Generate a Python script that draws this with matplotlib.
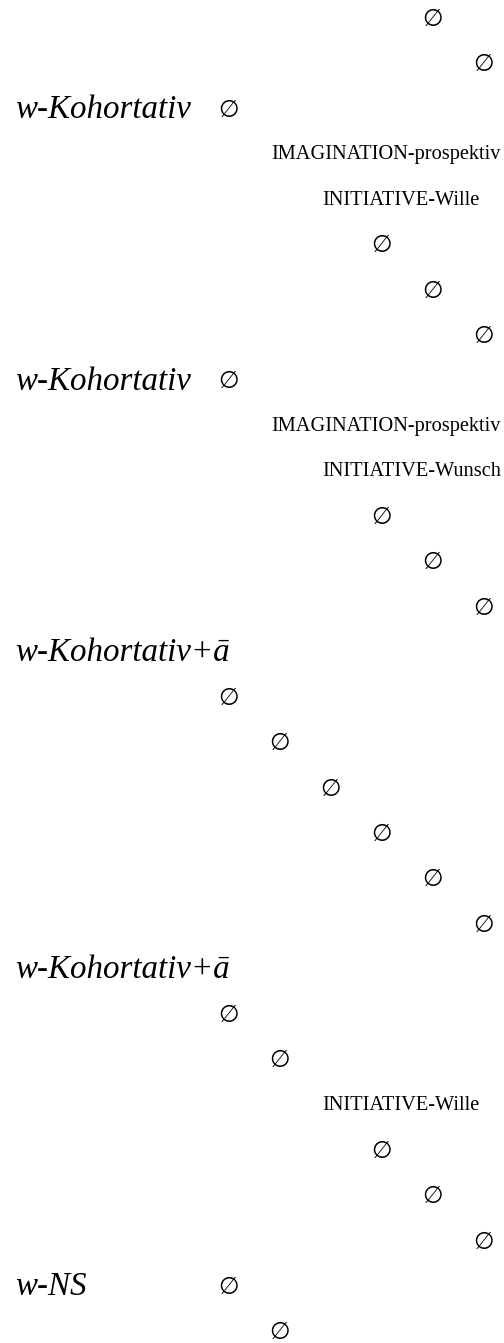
import matplotlib
matplotlib.use("Agg")
import matplotlib.pyplot as plt
from matplotlib.transforms import blended_transform_factory

EMPTY = "\u2205"

# one entry per node: row in the listing, indentation level, text
rows = [0, 1, 2, 2, 3, 4, 5, 6, 7,
        8, 8, 9, 10, 11, 12, 13,
        14, 15, 16, 17, 18, 19, 20,
        21, 22, 23, 24, 25, 26, 27,
        28, 28, 29]
levels = [5, 6, 0, 1, 2, 3, 4, 5, 6,
          0, 1, 2, 3, 4, 5, 6,
          0, 1, 2, 3, 4, 5, 6,
          0, 1, 2, 3, 4, 5, 6,
          0, 1, 2]
texts = [EMPTY, EMPTY, "w-Kohortativ", EMPTY, "IMAGINATION-prospektiv",
         "INITIATIVE-Wille", EMPTY, EMPTY, EMPTY,
         "w-Kohortativ", EMPTY, "IMAGINATION-prospektiv", "INITIATIVE-Wunsch",
         EMPTY, EMPTY, EMPTY,
         "w-Kohortativ+\u0101", EMPTY, EMPTY, EMPTY, EMPTY, EMPTY, EMPTY,
         "w-Kohortativ+\u0101", EMPTY, EMPTY, "INITIATIVE-Wille",
         EMPTY, EMPTY, EMPTY,
         "w-NS", EMPTY, EMPTY]

fig = plt.figure(figsize=(5.04, 13.43), dpi=100)
ax = fig.add_axes((0, 0, 1, 1))
ax.set_xlim(-3.333, 6.549)
ax.set_ylim(29.24, -0.42)
ax.axis("off")

label_trans = blended_transform_factory(ax.transAxes, ax.transData)

for r, lvl, t in zip(rows, levels, texts):
    if lvl == 0:
        ax.text(0.03, r, t, transform=label_trans, ha="left", va="center",
                family=["Liberation Serif", "DejaVu Serif"], style="italic",
                fontsize=23.8)
    elif t == EMPTY:
        ax.text(lvl + 0.14, r, t, ha="center", va="center",
                family=["DejaVu Sans"], fontsize=17)
    else:
        ax.text(lvl - 0.02, r, t, ha="left", va="center",
                family=["Liberation Serif", "DejaVu Serif"], fontsize=14.7)

fig.savefig("out.png", dpi=100)
